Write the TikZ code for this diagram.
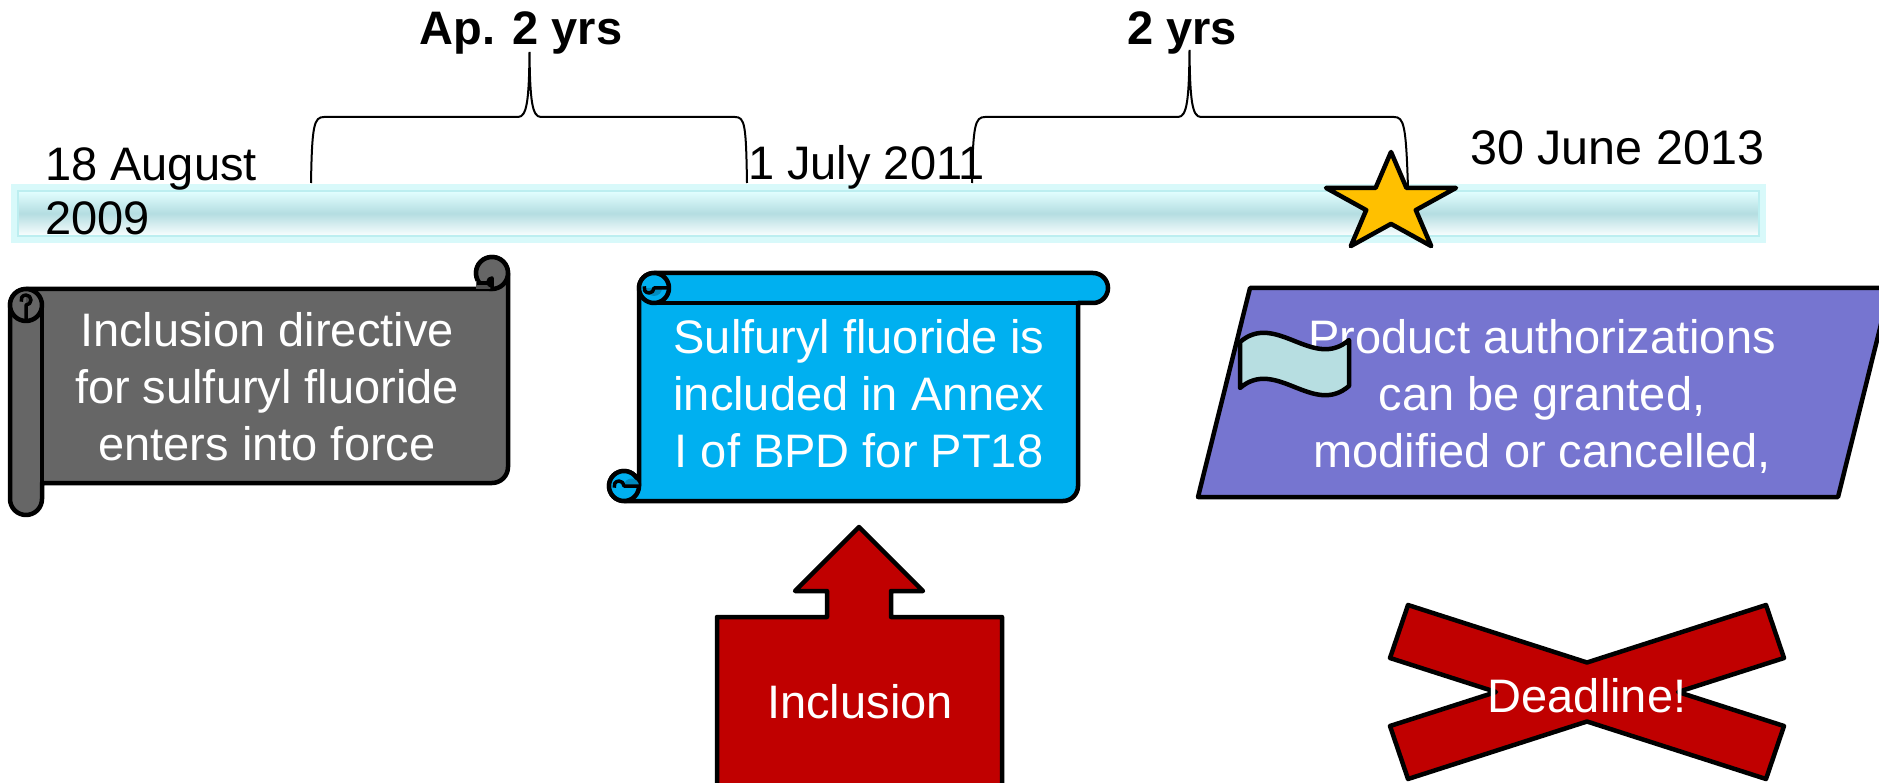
\documentclass[tikz,border=0pt]{standalone}
\usepackage{fontspec}
\setmainfont{Liberation Sans}
\definecolor{grayfill}{HTML}{666666}
\definecolor{graydark}{HTML}{4F4F4F}
\definecolor{bluefill}{HTML}{00B0F0}
\definecolor{bluedark}{HTML}{008CC0}
\definecolor{purplefill}{HTML}{7675D0}
\definecolor{redfill}{HTML}{C00000}
\definecolor{starfill}{HTML}{FFC000}
\definecolor{wavefill}{HTML}{B7DEE1}
\definecolor{barglow}{HTML}{D8F9FA}
\definecolor{barline}{HTML}{BCEEF0}
\definecolor{bartop}{HTML}{E2FFFF}
\definecolor{barmid}{HTML}{B4DDE1}
\definecolor{barbot}{HTML}{FAFFFF}
\begin{document}
\begin{tikzpicture}[x=1pt,y=-1pt,
  outl/.style={draw=black,line width=4.5pt,line join=round},
  thinoutl/.style={draw=black,line width=3.5pt,line join=round},
  bracestyle/.style={draw=black,line width=2pt},
  txt/.style={font=\fontsize{47}{57}\selectfont,inner sep=0pt},
  boldtxt/.style={font=\fontsize{47}{57}\selectfont\bfseries,inner sep=0pt},
  wtxt/.style={txt,text=white,align=center}]
\useasboundingbox (0,0) rectangle (1879,783);
\clip (0,0) rectangle (1879,783);

% timeline bar
\fill[barglow] (11,184) rectangle (1766,243);
\shade[top color=bartop, bottom color=barbot, middle color=barmid] (18,191) rectangle (1759,236);
\draw[barline,line width=1.5pt] (18,191) rectangle (1759,236);

% dates
\node[txt,anchor=north west,align=left,font=\fontsize{47}{54}\selectfont] (d1) at (45,147) {18 August\\2009};
\node[txt,anchor=base west] (d2) at (748,180) {1 July 2011};
\node[txt,anchor=base west,font=\fontsize{48.5}{57}\selectfont] (d3) at (1470,165) {30 June 2013};
\node[boldtxt,anchor=base] (l1) at (521,45) {Ap. 2 yrs};
\node[boldtxt,anchor=base] (l2) at (1182,45) {2 yrs};

% gray horizontal scroll
\draw[outl,fill=grayfill] (10,305) arc[start angle=180,end angle=270,radius=16]
  -- (492,289) arc[start angle=90,end angle=360,radius=16]
  -- (508,467) arc[start angle=0,end angle=90,radius=16]
  -- (42,483) -- (42,499) arc[start angle=0,end angle=180,radius=16] -- cycle;
\draw[outl,fill=grayfill] (26,305) circle[radius=16];
\fill[graydark] (26,305) arc[start angle=90,end angle=-90,radius=5] -- cycle;
\draw[thinoutl] (26,321) -- (26,305) arc[start angle=90,end angle=-200,radius=5];
\draw[outl] (42,305) -- (42,499);
\draw[outl,fill=grayfill] (492,273) circle[radius=16];
\fill[graydark] (476,281) rectangle (492,289);
\draw[thinoutl,fill=graydark] (492,289) -- (492,278) arc[start angle=-90,end angle=-270,radius=4] -- (488,282);
\draw[thinoutl] (477,283) -- (492,283);

\node[wtxt,anchor=north] (t1) at (267,312) {Inclusion directive\\for sulfuryl fluoride\\enters into force};

% blue vertical scroll
\draw[outl,fill=bluefill] (654,273) arc[start angle=270,end angle=180,radius=15]
  -- (639,486) arc[start angle=0,end angle=-270,radius=15]
  -- (1063,501) arc[start angle=90,end angle=0,radius=15]
  -- (1078,303) -- (1093,303) arc[start angle=90,end angle=-90,radius=15] -- cycle;
\draw[outl,fill=bluefill] (654,288) circle[radius=15];
\fill[bluedark] (646,288) arc[start angle=180,end angle=0,radius=8] -- cycle;
\draw[thinoutl] (669,288) -- (654,288) arc[start angle=0,end angle=200,radius=5];
\draw[outl] (654,303) -- (1093,303);
\draw[outl,fill=bluefill] (624,486) circle[radius=15];
\fill[bluedark] (624,486) arc[start angle=180,end angle=360,radius=7.5] -- cycle;
\draw[thinoutl] (639,486) -- (624,486) arc[start angle=0,end angle=-200,radius=5];

\node[wtxt,anchor=north] (t2) at (859,319) {Sulfuryl fluoride is\\included in Annex\\I of BPD for PT18};

% purple parallelogram
\draw[outl,fill=purplefill] (1250,288) -- (1890,288) -- (1838,497) -- (1198,497) -- cycle;
\node[wtxt,anchor=north] (t3) at (1542,319) {Product authorizations\\can be granted,\\modified or cancelled,};
\draw[outl,fill=wavefill] (1240,342) .. controls (1276,311) and (1313,371) .. (1349,340)
  -- (1349,386) .. controls (1313,417) and (1276,357) .. (1240,388) -- cycle;

% star
\draw[outl,fill=starfill] (1391,152) -- (1406.4,187.9) -- (1456,187.9) -- (1415.8,210.1)
  -- (1431.2,246.1) -- (1391,223.9) -- (1350.8,246.1) -- (1366.2,210.1)
  -- (1326,187.9) -- (1375.6,187.9) -- cycle;

% braces
\draw[bracestyle] (311,183) .. controls (312,125) and (314,117) .. (324,117) -- (518,117)
  .. controls (527,117) and (529,100) .. (529.5,52) .. controls (530,100) and (532,117) .. (541,117)
  -- (735,117) .. controls (745,117) and (746,125) .. (747,183);
\draw[bracestyle] (972,183) .. controls (973,125) and (975,117) .. (985,117) -- (1178,117)
  .. controls (1187,117) and (1189,100) .. (1189.5,50) .. controls (1190,100) and (1192,117) .. (1201,117)
  -- (1394,117) .. controls (1404,117) and (1406,125) .. (1408,188);

% red up arrow callout
\draw[outl,fill=redfill] (717,800) -- (717,617) -- (827,617) -- (827,591) -- (795,591) -- (859,527)
  -- (923,591) -- (891,591) -- (891,617) -- (1002,617) -- (1002,800) -- cycle;
\node[txt,text=white,anchor=base] (t4) at (860,718) {Inclusion};

% red X
\draw[outl,fill=redfill] (1408,605) -- (1587,662.5) -- (1766,605) -- (1784,658) -- (1678,692)
  -- (1784,726) -- (1766,779) -- (1587,721.5) -- (1408,779) -- (1390,726) -- (1496,692)
  -- (1390,658) -- cycle;
\node[txt,text=white,anchor=base] (t5) at (1587,712) {Deadline!};
\end{tikzpicture}
\end{document}
